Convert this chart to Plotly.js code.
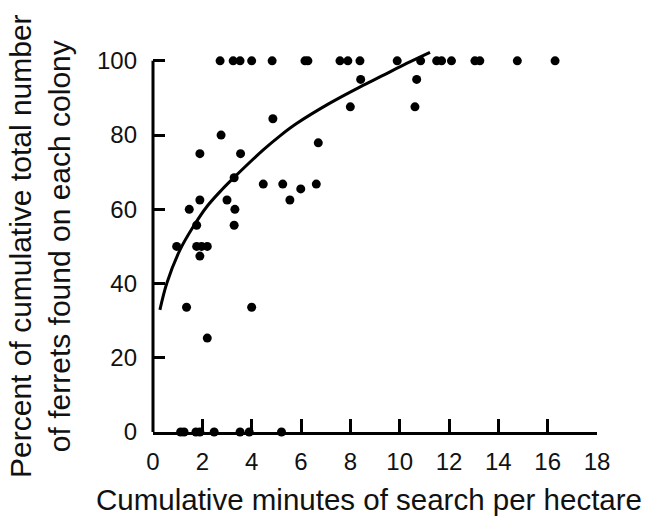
<!DOCTYPE html>
<html>
<head>
<meta charset="utf-8">
<script src="https://cdn.plot.ly/plotly-3.0.1.min.js"></script>
<style>html,body{margin:0;padding:0;background:#fff;}#chart{width:648px;height:524px;}</style>
</head>
<body>
<div id="chart"></div>
<script>
// Observed points: cumulative minutes of search per hectare vs percent found
const searchMinutes = [
  2.72, 3.25, 3.53, 4.0, 4.83, 6.16, 6.28, 7.58, 7.9, 8.39, 9.9, 10.85, 11.5, 11.7, 12.1, 13.05, 13.25, 14.77, 16.3,
  8.42, 10.69,
  8.0, 10.62,
  4.86,
  2.76,
  6.7,
  1.9, 3.55,
  3.29,
  4.47, 5.26, 6.62,
  5.99,
  1.9, 3.0, 5.55,
  1.47, 3.32,
  1.77, 3.29,
  0.96, 1.77, 1.97, 2.2,
  1.9,
  1.36, 4.0,
  2.2,
  1.12, 1.26, 1.74, 1.9, 2.48, 3.53, 3.9, 5.21
];
const percentFound = [
  100, 100, 100, 100, 100, 100, 100, 100, 100, 100, 100, 100, 100, 100, 100, 100, 100, 100, 100,
  95, 95,
  87.6, 87.6,
  84.4,
  80,
  77.9,
  75, 75,
  68.5,
  66.8, 66.8, 66.8,
  65.5,
  62.5, 62.5, 62.5,
  60, 60,
  55.7, 55.7,
  50, 50, 50, 50,
  47.4,
  33.6, 33.6,
  25.3,
  0, 0, 0, 0, 0, 0, 0, 0
];
// Fitted curve
const curveX = [0.28, 0.56, 1.09, 1.63, 2.18, 2.78, 3.32, 4.47, 5.15, 5.82, 7.17, 8.4, 9.3, 10.28, 11.23];
const curveY = [32.9, 40.1, 49.0, 55.3, 60.7, 65.2, 68.8, 76.0, 79.8, 83.1, 88.6, 93.0, 96.0, 99.3, 102.3];

const xTickVals = [0, 2, 4, 6, 8, 10, 12, 14, 16, 18];
const yTickVals = [0, 20, 40, 60, 80, 100];
const xTitle = 'Cumulative minutes of search per hectare';
const yTitle = 'Percent of cumulative total number<br>of ferrets found on each colony';

const yTop = 100, yMax = 104;
const FONT = 'Liberation Sans, Arial, sans-serif';

const traces = [
  {
    x: curveX, y: curveY, type: 'scatter', mode: 'lines',
    line: {color: '#000', width: 3, shape: 'spline', smoothing: 1},
    hoverinfo: 'skip'
  },
  {
    x: searchMinutes, y: percentFound, type: 'scatter', mode: 'markers',
    marker: {color: '#000', size: 9},
    cliponaxis: false
  }
];

const layout = {
  width: 648, height: 524,
  margin: {l: 153, r: 51, t: 46, b: 92},
  paper_bgcolor: '#fff', plot_bgcolor: '#fff',
  showlegend: false,
  font: {family: FONT, color: '#000'},
  xaxis: {
    range: [0, 18], tickvals: xTickVals, ticktext: xTickVals.map(String),
    showline: true, linecolor: '#000', linewidth: 3,
    ticks: 'inside', ticklen: 13, tickwidth: 3, tickcolor: '#000',
    showgrid: false, zeroline: false,
    tickfont: {size: 24, family: FONT, color: '#111'},
    ticklabelstandoff: 6
  },
  yaxis: {
    range: [0, yMax], tickvals: yTickVals, ticktext: yTickVals.map(String),
    showline: false,
    ticks: 'inside', ticklen: 12, tickwidth: 3, tickcolor: '#000',
    showgrid: false, zeroline: false,
    tickfont: {size: 24, family: FONT, color: '#111'},
    ticklabelstandoff: 15
  },
  shapes: [
    {type: 'line', xref: 'paper', yref: 'paper', x0: 0, x1: 0, y0: 0, y1: yTop / yMax,
     line: {color: '#000', width: 3}}
  ],
  annotations: [
    {text: xTitle, xref: 'paper', yref: 'paper', x: 0.4854, y: -0.176,
     xanchor: 'center', yanchor: 'middle', showarrow: false,
     font: {size: 29.5, family: FONT, color: '#111'}},
    {text: yTitle, xref: 'paper', yref: 'paper', x: -0.2545, y: 0.482,
     xanchor: 'center', yanchor: 'middle', showarrow: false, textangle: -90,
     font: {size: 30, family: FONT, color: '#111'}}
  ]
};

Plotly.newPlot('chart', traces, layout, {staticPlot: true, displayModeBar: false});
</script>
</body>
</html>
